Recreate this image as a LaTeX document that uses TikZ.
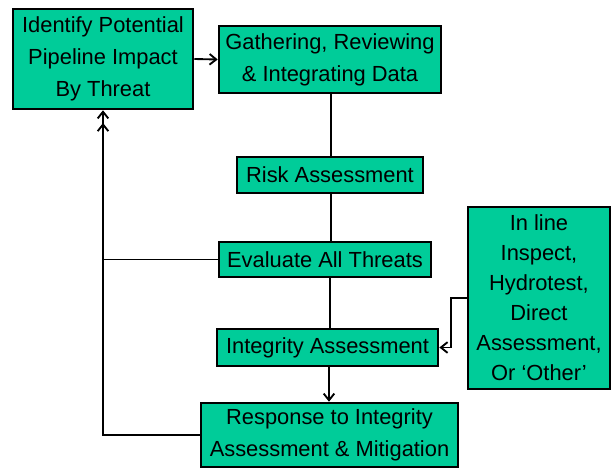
\documentclass[tikz,border=0pt]{standalone}
\usepackage{fontspec}
\setmainfont{Liberation Sans}
\usepackage{xcolor}
\definecolor{boxgreen}{RGB}{0,204,153}
\usepackage{tikz}
\usetikzlibrary{positioning, arrows.meta, calc}
\tikzstyle{box} = [
    rectangle, text centered, align=center,
    fill=boxgreen,
    draw=black,
    line width=1.9pt,
    inner sep=0pt,
    font=\fontsize{16.4}{24}\selectfont,
]
\tikzstyle{arrow} = [-{Straight Barb[length=5pt,width=8pt]}, line width=1.4pt]
\tikzstyle{link} = [line width=1.4pt]

\begin{document}
\begin{tikzpicture}[x=0.75pt, y=-0.75pt]
    \useasboundingbox (0,0) rectangle (612,471);

    % boxes
    \node (threat) at (103, 59) [box, minimum width=135pt, minimum height=75pt]
        {Identify Potential\\Pipeline Impact\\By Threat};
    \node (gather) at (330, 59.5) [box, minimum width=166.5pt, minimum height=50pt]
        {Gathering, Reviewing\\\& Integrating Data};
    \node (risk) at (330, 175) [box, minimum width=139.5pt, minimum height=27pt]
        {Risk Assessment};
    \node (evaluate) at (325, 259.5) [box, minimum width=159pt, minimum height=26pt]
        {Evaluate All Threats};
    \node (integrity) at (327.5, 347.5) [box, minimum width=166pt, minimum height=28pt]
        {Integrity Assessment};
    \node (response) at (329.5, 435) [box, minimum width=193pt, minimum height=48pt]
        {Response to Integrity\\Assessment \& Mitigation};
    \node (methods) at (539, 298) [box, minimum width=106.5pt, minimum height=136.5pt,
        font=\fontsize{16.4}{22.5}\selectfont]
        {In line\\Inspect,\\Hydrotest,\\Direct\\Assessment,\\Or `Other'};
    \coordinate (headmid) at (threat.south |- 0,123);

    % arrows
    \draw [arrow] (threat.east) to (gather.west);
    \draw [link] (gather.south -| 331,0) to (risk.north -| 331,0);
    \draw [link] (risk.south -| 331,0) to (evaluate.north -| 331,0);
    \draw [link] (evaluate.south -| 330,0) to (integrity.north -| 330,0);
    \draw [arrow] (integrity.south -| 329,0) to (response.north -| 329,0);
    \draw [arrow] (evaluate.west) -| (headmid);
    \draw [arrow] (response.west) -| (threat.south);
    \draw [arrow] (methods.west) -- ++(-16,0) |- (integrity.east);
\end{tikzpicture}
\end{document}
